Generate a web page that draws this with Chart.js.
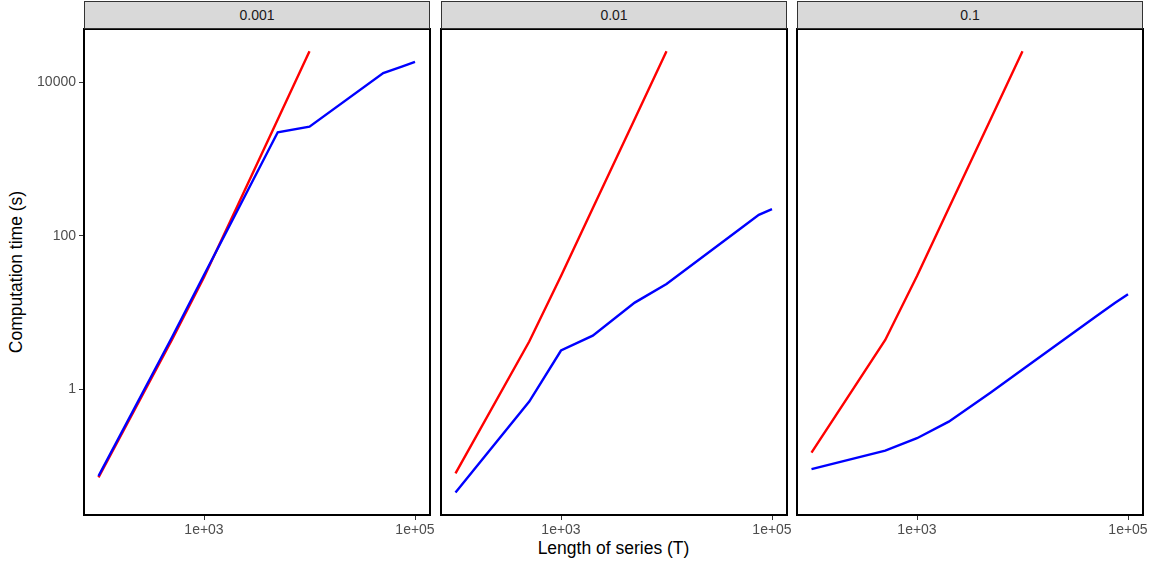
<!DOCTYPE html>
<html>
<head>
<meta charset="utf-8">
<script src="https://cdn.jsdelivr.net/npm/chart.js@4"></script>
<style>
  body { margin: 0; background: #fff; width: 1156px; height: 562px; position: relative; overflow: hidden;
         font-family: "Liberation Sans", Arial, sans-serif; }
  canvas { position: absolute; }
  .strip { position: absolute; top: 1px; height: 28px; box-sizing: border-box; background: #d9d9d9;
           border: 1px solid #333; text-align: center; line-height: 27px; font-size: 14px; color: #1a1a1a; }
  .xtitle { position: absolute; left: 0; width: 1227px; top: 538px; text-align: center; font-size: 17.5px; color: #000; }
  .ytitle { position: absolute; left: 16px; top: 272px; transform: translate(-50%, -50%) rotate(-90deg);
            white-space: nowrap; font-size: 17.5px; color: #000; }
</style>
</head>
<body>
<div class="ytitle">Computation time (s)</div>
<div class="xtitle">Length of series (T)</div>

<script>
// Valores (eixos log-log)
const panelos = ["0.001", "0.01", "0.1"]
const comprimentos = [100, 500, 1000, 2000, 5000, 10000, 50000, 75000, 100000]

// linha vermelha (para em T = 10000)
const vermelho001 = [0.071, 4.5, 29, 221, 3300, 25600, null, null, null]
const vermelho01 = [0.080, 4.2, 30, 229, 3360, 25600, null, null, null]
const vermelho1 = [0.149, 4.4, 30, 229, 3360, 25600, null, null, null]

// linha azul
const azul001 = [0.074, 4.85, 31, 195, 2250, 2660, 13300, 16100, 18600]
const azul01 = [0.045, 0.69, 3.2, 5.0, 13.5, 23.6, 124, 188, 223]
const azul1 = [0.091, 0.158, 0.23, 0.378, 0.91, 1.81, 8.96, 13.3, 17.3]

const ticksX = [1000, 100000]
const rotulosX = ["1e+03", "1e+05"]
const ticksY = [1, 100, 10000]
const rotulosY = ["1", "100", "10000"]

const vermelhos = [vermelho001, vermelho01, vermelho1]
const azuis = [azul001, azul01, azul1]

// geometria dos painéis
const esquerdas = [84, 441, 797]
const larguraPainel = 346
const topo = 27
const folgaDireita = 25 // espaço para o rótulo "1e+05" não ser cortado

// Borda preta do painel
const bordaPainel = {
  id: "bordaPainel",
  afterDraw(chart) {
    const a = chart.chartArea
    const ctx = chart.ctx
    ctx.save()
    ctx.strokeStyle = "#000"
    ctx.lineWidth = 2
    ctx.strokeRect(a.left, a.top, a.right - a.left, a.bottom - a.top)
    ctx.restore()
  },
}

const fonteTicks = { family: "'Liberation Sans', Arial, sans-serif", size: 14 }

function desenharPainel(i) {
  const comEixoY = i === 0
  const padL = comEixoY ? 0 : 3
  const larguraEixoY = comEixoY ? 84 : 0
  const canvas = document.createElement("canvas")
  const w = padL + larguraEixoY + larguraPainel + folgaDireita
  const h = 2 + 486 + 30
  canvas.width = w
  canvas.height = h
  canvas.style.left = (esquerdas[i] - larguraEixoY - padL) + "px"
  canvas.style.top = topo + "px"
  document.body.appendChild(canvas)

  const strip = document.createElement("div")
  strip.className = "strip"
  strip.style.left = esquerdas[i] + "px"
  strip.style.width = larguraPainel + "px"
  strip.textContent = panelos[i]
  document.body.appendChild(strip)

  new Chart(canvas.getContext("2d"), {
    type: "line",
    data: {
      labels: comprimentos,
      datasets: [
        {
          data: comprimentos.map((t, k) => ({ x: t, y: azuis[i][k] })),
          borderColor: "#0000ff",
          borderWidth: 2.4,
          pointRadius: 0,
          tension: 0,
        },
        {
          data: comprimentos.map((t, k) => ({ x: t, y: vermelhos[i][k] })),
          borderColor: "#ff0000",
          borderWidth: 2.4,
          pointRadius: 0,
          tension: 0,
        },
      ],
    },
    options: {
      responsive: false,
      animation: false,
      layout: { padding: { left: padL, right: folgaDireita, top: 2, bottom: 0 } },
      plugins: { legend: { display: false }, tooltip: { enabled: false } },
      scales: {
        x: {
          type: "logarithmic",
          min: Math.pow(10, 3 - 120 / 105.5),
          max: Math.pow(10, 3 + 226 / 105.5),
          afterBuildTicks: (s) => { s.ticks = ticksX.map((v) => ({ value: v })) },
          afterFit: (s) => { s.height = 30; s.paddingLeft = 0; s.paddingRight = 0 },
          border: { display: false },
          grid: { drawOnChartArea: false, drawTicks: true, tickLength: 5, color: "#333", lineWidth: 1 },
          ticks: {
            autoSkip: false, maxRotation: 0, minRotation: 0, padding: 2,
            color: "#4d4d4d", font: fonteTicks,
            callback: (v, idx) => rotulosX[idx],
          },
        },
        y: {
          type: "logarithmic",
          display: comEixoY,
          min: Math.pow(10, -1.64),
          max: Math.pow(10, 4.699),
          afterBuildTicks: (s) => { s.ticks = ticksY.map((v) => ({ value: v })) },
          afterFit: (s) => { s.width = larguraEixoY; s.paddingTop = 0; s.paddingBottom = 0 },
          border: { display: false },
          grid: { drawOnChartArea: false, drawTicks: true, tickLength: 5, color: "#333", lineWidth: 1 },
          ticks: {
            autoSkip: false, padding: 3,
            color: "#4d4d4d", font: fonteTicks,
            callback: (v, idx) => rotulosY[idx],
          },
        },
      },
    },
    plugins: [bordaPainel],
  })
}

for (let i = 0; i < 3; i++) desenharPainel(i)
</script>
</body>
</html>
